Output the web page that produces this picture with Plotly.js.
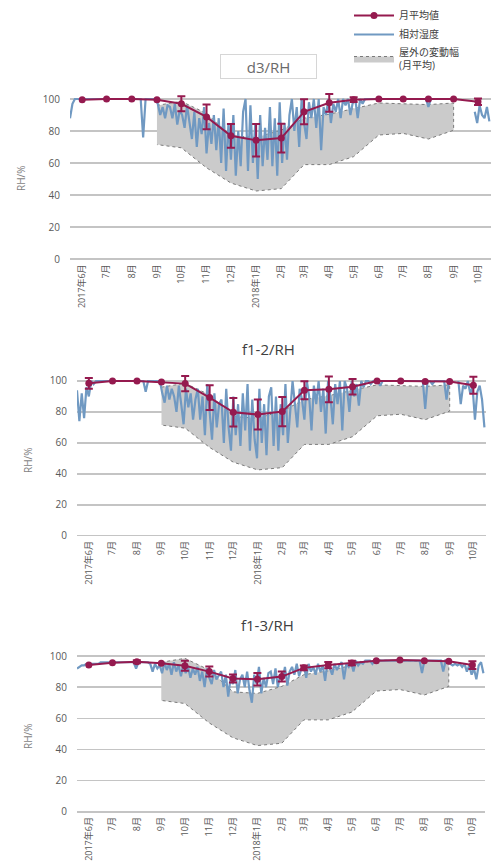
<!DOCTYPE html>
<html><head><meta charset="utf-8">
<script src="https://cdn.plot.ly/plotly-3.0.1.min.js"></script>
<style>html,body{margin:0;padding:0;background:#fff}#chart{width:493px;height:861px}</style>
</head><body><div id="chart"></div>
<script>
// ---- month categories (monthly points plotted mid-month) ----
const monthDates = ['2017-06-16','2017-07-16','2017-08-16','2017-09-16','2017-10-16','2017-11-16','2017-12-16',
  '2018-01-16','2018-02-16','2018-03-16','2018-04-16','2018-05-16','2018-06-16','2018-07-16','2018-08-16','2018-09-16','2018-10-16'];
const tickText = ['2017年6月','7月','8月','9月','10月','11月','12月','2018年1月','2月','3月','4月','5月','6月','7月','8月','9月','10月'];

// ---- monthly means and error (NaN = no bar) ----
const d3Mean  = [99.5,100,100,99.5,97,88.8,77,74.2,75.6,92,97.6,99.6,100,100,100,100,98.3];
const d3Err   = [NaN,NaN,NaN,NaN,4.7,7.7,7.4,10.2,9,7.8,5.5,1.5,NaN,NaN,NaN,NaN,2];
const f12Mean = [98.5,100,100,99.3,98.3,89.3,79.8,78.3,80.2,94,94.6,96.3,100,100,99.6,99.6,97.2];
const f12Err  = [3.5,NaN,NaN,NaN,5,8,9.2,9.7,9.5,5.8,8.3,5,NaN,NaN,NaN,NaN,5.5];
const f13Mean = [94.3,95.7,96.3,95.3,93.8,90,85.6,85.1,86.8,92.4,94.2,95.5,97,97.4,97,96.6,94.2];
const f13Err  = [NaN,NaN,1,NaN,3.2,3.2,2.6,4,3.2,1.5,2,1.5,NaN,NaN,NaN,NaN,2.5];

// ---- outdoor monthly range (same in all panels) ----
const outdoorDates = ['2017-09-16','2017-10-16','2017-11-16','2017-12-16','2018-01-16','2018-02-16','2018-03-16',
  '2018-04-16','2018-05-16','2018-06-16','2018-07-16','2018-08-16','2018-09-16'];
const outdoorUpper = [96,98.5,91,77,76,80.5,88,90.5,94,97.5,97,96.5,97.5];
const outdoorLower = [71.5,69.5,57,47.5,42.5,44,59,59,64,77.5,78.5,75,80.5];

// ---- relative humidity, one reading every 3 days from 2017-06-01 ----
const dailyStart = '2017-06-01';
const dailyStepDays = 3;
const d3Daily = [
  88,97,100,100,100,100,100,100,100,100,
  100,100,100,100,100,100,100,100,100,100,100,
  100,100,100,100,100,100,100,100,100,76,
  100,100,100,100,100,97,90,95,88,96,
  95,88,97,84,93,90,82,96,86,75,
  92,70,88,78,95,66,85,72,90,68,
  88,60,94,55,85,62,90,52,80,58,92,
  100,55,96,60,85,50,90,58,82,62,
  95,58,88,52,98,60,85,62,90,
  100,80,95,70,100,85,75,98,88,100,82,
  100,68,95,90,100,85,97,92,100,88,
  100,96,100,90,98,100,88,100,97,100,
  100,100,100,100,100,100,100,100,100,100,
  100,100,100,100,100,100,100,100,100,100,
  100,100,100,100,100,95,100,100,100,100,100,
  100,100,100,100,100,100,null,null,null,null,
  null,null,null,92,85,96,90,88,95,86];
const f12Daily = [
  94,74,92,76,96,90,100,98,100,100,
  100,100,100,100,100,100,100,100,100,100,100,
  100,100,100,100,100,100,100,100,93,100,
  100,100,100,100,100,92,86,97,88,95,
  90,80,97,85,72,95,83,92,75,88,
  95,75,90,65,98,80,62,92,70,85,
  88,60,95,70,55,90,65,85,58,92,68,
  98,55,88,62,50,95,60,85,52,90,
  96,58,90,55,85,65,98,60,80,
  100,85,70,95,88,75,100,90,68,97,85,
  100,80,95,66,100,90,72,98,85,100,
  68,100,95,80,100,90,98,84,100,96,
  100,100,98,100,100,100,97,100,100,100,
  100,100,100,100,100,100,100,100,100,100,
  100,100,100,100,100,82,100,100,98,100,100,
  100,100,100,88,100,100,null,null,100,85,
  97,95,100,92,96,75,93,97,88,70];
const f13Daily = [
  92,93,94,94,95,95,95,95,95,95,
  96,96,96,96,96,96,96,96,96,96,96,
  96,96,96,96,92,96,96,96,96,96,
  95,90,95,92,94,89,96,91,95,88,
  96,90,94,87,95,89,93,86,92,88,
  93,84,90,80,92,86,82,91,85,88,
  90,80,88,74,86,82,91,76,85,88,80,
  90,78,70,88,82,93,76,86,80,89,
  90,82,92,80,88,85,93,81,90,
  93,88,95,87,92,94,86,95,90,93,88,
  95,90,94,84,96,92,88,95,91,94,
  96,85,95,93,96,90,97,94,96,95,
  97,97,97,95,97,97,97,97,97,97,
  97,97,97,97,97,97,97,97,97,97,
  97,97,97,97,89,97,97,97,97,97,97,
  97,97,90,97,96,95,94,95,94,95,
  93,95,90,94,88,92,85,94,96,89];

const panelTitles = ['d3/RH','f1-2/RH','f1-3/RH'];
const legendNames = ['月平均値','相対湿度','屋外の変動幅<br>(月平均)'];
const yTitle = 'RH/%';

function dailyDates(n){
  const out=[]; const t0=Date.parse(dailyStart+'T00:00:00Z');
  for(let i=0;i<n;i++){ out.push(new Date(t0+i*dailyStepDays*86400000).toISOString().slice(0,10)); }
  return out;
}

const CRIMSON='#951a4f', BLUE='#7099c2', FILL='#cbcbcb';
const FONT='"Open Sans", "Noto Sans CJK JP", sans-serif';
const panels=[
  {mean:d3Mean, err:d3Err, daily:d3Daily},
  {mean:f12Mean, err:f12Err, daily:f12Daily},
  {mean:f13Mean, err:f13Err, daily:f13Daily}];

const traces=[];
panels.forEach((p,k)=>{
  const xa = k===0?'x':'x'+(k+1), ya = k===0?'y':'y'+(k+1);
  const show = k===0;
  traces.push({x:outdoorDates.concat(outdoorDates.slice().reverse()),
    y:outdoorUpper.concat(outdoorLower.slice().reverse()),
    xaxis:xa,yaxis:ya,type:'scatter',mode:'lines',fill:'toself',fillcolor:FILL,
    line:{color:'#7a7a7a',width:1,dash:'dot'},name:legendNames[2],showlegend:show,hoverinfo:'skip'});
  traces.push({x:dailyDates(p.daily.length),y:p.daily,xaxis:xa,yaxis:ya,type:'scatter',mode:'lines',
    line:{color:BLUE,width:2.2},connectgaps:false,name:legendNames[1],showlegend:show,hoverinfo:'skip'});
  traces.push({x:monthDates,y:p.mean,xaxis:xa,yaxis:ya,type:'scatter',mode:'lines+markers',
    line:{color:CRIMSON,width:2},marker:{color:CRIMSON,size:7},
    error_y:{type:'data',array:p.err,visible:true,color:CRIMSON,thickness:2,width:4},
    name:legendNames[0],showlegend:show,cliponaxis:false});
});

const H=861,W=493;
const geo=[ // [xLeft,xRight,yTopPx,yBottomPx] px
  [70,491,92.6,260.6],
  [77,486,374.8,537.2],
  [77,485,649.8,813.3]];
const layout={width:W,height:H,margin:{l:0,r:0,t:0,b:0},paper_bgcolor:'#fff',plot_bgcolor:'rgba(0,0,0,0)',
  font:{family:FONT,color:'#595959',size:10},
  showlegend:true,
  legend:{x:349/W,y:1-1/H,xanchor:'left',yanchor:'top',traceorder:'reversed',
    font:{size:10,color:'#404040',family:FONT},bgcolor:'rgba(0,0,0,0)',itemwidth:40,tracegroupgap:0},
  annotations:[]};
geo.forEach((g,k)=>{
  const s = k===0?'':String(k+1);
  layout['xaxis'+s]={domain:[g[0]/W,g[1]/W],anchor:'y'+s,type:'date',range:['2017-06-01','2018-11-01'],
    tickmode:'array',tickvals:monthDates,ticktext:tickText,tickangle:-90,showgrid:false,zeroline:false,
    showline:false,ticks:'',tickfont:{size:9,color:'#595959',family:FONT},ticklabelstandoff:1,fixedrange:true};
  layout['yaxis'+s]={domain:[1-g[3]/H,1-g[2]/H],anchor:'x'+s,range:[-1,104],tickmode:'array',
    tickvals:[0,20,40,60,80,100],showgrid:true,gridcolor:'#c4c4c4',gridwidth:1.6,zeroline:false,showline:false,
    ticks:'',tickfont:{size:10,color:'#595959',family:FONT},ticklabelstandoff:9,fixedrange:true};
});
// titles
layout.annotations.push({xref:'paper',yref:'paper',x:268.5/W,y:1-66.5/H,xanchor:'center',yanchor:'middle',
  text:panelTitles[0],showarrow:false,
  font:{size:15,color:'#6a6a6a',family:FONT},bordercolor:'#d6d6d6',borderwidth:1,width:93,height:21,borderpad:1});
layout.annotations.push({xref:'paper',yref:'paper',x:268/W,y:1-349/H,xanchor:'center',yanchor:'middle',
  text:panelTitles[1],showarrow:false,font:{size:15,color:'#404040',family:FONT}});
layout.annotations.push({xref:'paper',yref:'paper',x:267/W,y:1-625/H,xanchor:'center',yanchor:'middle',
  text:panelTitles[2],showarrow:false,font:{size:15,color:'#404040',family:FONT}});
[[21,179],[28,461],[28,737]].forEach(p=>{
  layout.annotations.push({xref:'paper',yref:'paper',x:p[0]/W,y:1-p[1]/H,xanchor:'center',yanchor:'middle',
    text:yTitle,textangle:-90,showarrow:false,font:{size:10,color:'#7f7f7f',family:FONT}});
});
Plotly.newPlot('chart',traces,layout,{displayModeBar:false,staticPlot:true});
</script></body></html>
